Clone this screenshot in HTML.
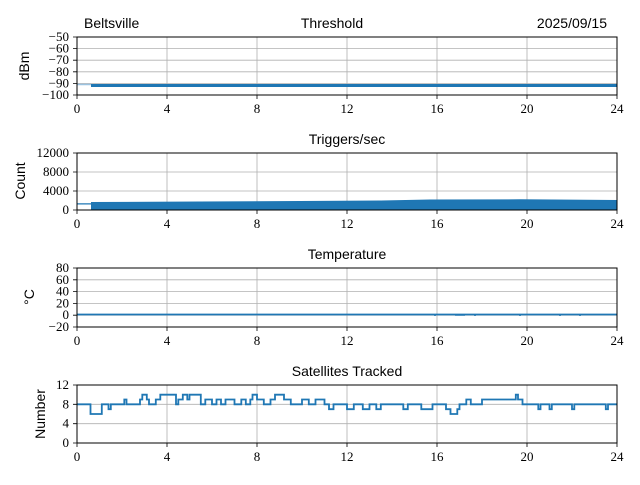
<!DOCTYPE html>
<html><head><meta charset="utf-8"><style>
body{margin:0;background:#fff}
svg text{font-family:"Liberation Serif",serif;font-size:13px;fill:#000}
.s{font-family:"Liberation Sans",sans-serif;font-size:14px}
</style></head><body>
<svg width="640" height="480" xmlns="http://www.w3.org/2000/svg">
<g stroke="#b0b0b0" stroke-width="0.8">
<!-- vertical grids -->
<path d="M167,37V95M257,37V95M347,37V95M437,37V95M527,37V95"/>
<path d="M167,153V210M257,153V210M347,153V210M437,153V210M527,153V210"/>
<path d="M167,268V327M257,268V327M347,268V327M437,268V327M527,268V327"/>
<path d="M167,385V443M257,385V443M347,385V443M437,385V443M527,385V443"/>
<!-- horizontal grids -->
<path d="M77,48.6H617M77,60.2H617M77,71.8H617M77,83.4H617"/>
<path d="M77,172H617M77,191H617"/>
<path d="M77,279.8H617M77,291.6H617M77,303.4H617M77,315.2H617"/>
<path d="M77,404.3H617M77,423.7H617"/>
</g>
<!-- threshold -->
<path d="M77,84.5H91" stroke="#9cc3e0" stroke-width="1.5"/>
<path d="M91,85.5H617" stroke="#1f77b4" stroke-width="3"/>
<!-- triggers -->
<path d="M77,204H91" stroke="#1f77b4" stroke-width="1.5"/>
<rect x="77" y="204.5" width="14" height="5.5" fill="#fff"/>
<polygon points="91,202 200,201.5 300,201 380,200.5 430,199.5 520,199.3 617,200 617,210 91,210" fill="#1f77b4"/>
<!-- temperature -->
<path d="M77,314.5H617" stroke="#1f77b4" stroke-width="1.8"/>
<path d="M435,314.5v1.5M455,315h10M475,314v2M520,314.5v1.5M560,314.5v1.5M580,314.5v1.5" stroke="#1f77b4" stroke-width="1.5"/>
<!-- satellites -->
<path fill="none" stroke="#1f77b4" stroke-width="1.8" d="M77,404.3H90.5V414H101.8V404.3H108.5V409.2H110.8V404.3H124.3V399.5H126.5V404.3H140V399.5H142.3V394.7H146.8V399.5H149V404.3H155.8V399.5H160.3V394.7H176V404.3H178.3V399.5H182.8V394.7H187.3V399.5H189.5V394.7H200.8V404.3H205.3V399.5H212V404.3H216.5V399.5H221V404.3H225.5V399.5H234.5V404.3H241.3V399.5H245.8V404.3H250.3V399.5H252.5V394.7H257V399.5H263.8V404.3H270.5V399.5H275V394.7H284V399.5H290.8V404.3H302V399.5H308.8V404.3H315.5V399.5H324.5V404.3H329V409.2H333.5V404.3H347V409.2H353.8V404.3H362.8V409.2H369.5V404.3H376.3V409.2H380.8V404.3H403.3V409.2H407.8V404.3H421.3V409.2H432.5V404.3H446V409.2H450.5V414H457.3V409.2H459.5V404.3H466.3V399.5H470.8V404.3H482V399.5H515.8V394.7H518V399.5H522.5V404.3H538.3V409.2H540.5V404.3H549.5V409.2H551.8V404.3H572V409.2H574.3V404.3H605.8V409.2H608V404.3H617"/>
<!-- axes frames -->
<g fill="none" stroke="#000" stroke-width="1">
<rect x="77" y="37" width="540" height="58"/>
<rect x="77" y="153" width="540" height="57"/>
<rect x="77" y="268" width="540" height="59"/>
<rect x="77" y="385" width="540" height="58"/>
</g>
<!-- ticks -->
<g stroke="#000" stroke-width="0.8">
<path d="M77,95v4M167,95v4M257,95v4M347,95v4M437,95v4M527,95v4M617,95v4"/>
<path d="M77,210v4M167,210v4M257,210v4M347,210v4M437,210v4M527,210v4M617,210v4"/>
<path d="M77,327v4M167,327v4M257,327v4M347,327v4M437,327v4M527,327v4M617,327v4"/>
<path d="M77,443v4M167,443v4M257,443v4M347,443v4M437,443v4M527,443v4M617,443v4"/>
<path d="M73,37h4M73,48.6h4M73,60.2h4M73,71.8h4M73,83.4h4M73,95h4"/>
<path d="M73,153h4M73,172h4M73,191h4M73,210h4"/>
<path d="M73,268h4M73,279.8h4M73,291.6h4M73,303.4h4M73,315.2h4M73,327h4"/>
<path d="M73,385h4M73,404.3h4M73,423.7h4M73,443h4"/>
</g>
<!-- x labels -->
<g text-anchor="middle">
<text x="77" y="113">0</text><text x="167" y="113">4</text><text x="257" y="113">8</text><text x="347" y="113">12</text><text x="437" y="113">16</text><text x="527" y="113">20</text><text x="617" y="113">24</text>
<text x="77" y="228">0</text><text x="167" y="228">4</text><text x="257" y="228">8</text><text x="347" y="228">12</text><text x="437" y="228">16</text><text x="527" y="228">20</text><text x="617" y="228">24</text>
<text x="77" y="345">0</text><text x="167" y="345">4</text><text x="257" y="345">8</text><text x="347" y="345">12</text><text x="437" y="345">16</text><text x="527" y="345">20</text><text x="617" y="345">24</text>
<text x="77" y="461">0</text><text x="167" y="461">4</text><text x="257" y="461">8</text><text x="347" y="461">12</text><text x="437" y="461">16</text><text x="527" y="461">20</text><text x="617" y="461">24</text>
</g>
<!-- y labels -->
<g text-anchor="end">
<text x="69" y="41">−50</text><text x="69" y="52.6">−60</text><text x="69" y="64.2">−70</text><text x="69" y="75.8">−80</text><text x="69" y="87.4">−90</text><text x="69" y="99">−100</text>
<text x="69" y="157">12000</text><text x="69" y="176">8000</text><text x="69" y="195">4000</text><text x="69" y="214">0</text>
<text x="69" y="272">80</text><text x="69" y="283.8">60</text><text x="69" y="295.6">40</text><text x="69" y="307.4">20</text><text x="69" y="319.2">0</text><text x="69" y="331">−20</text>
<text x="69" y="389">12</text><text x="69" y="408.3">8</text><text x="69" y="427.7">4</text><text x="69" y="447">0</text>
</g>
<!-- titles -->
<text class="s" x="84" y="28">Beltsville</text>
<text class="s" x="332" y="28" text-anchor="middle">Threshold</text>
<text class="s" x="607" y="28" text-anchor="end">2025/09/15</text>
<text class="s" x="347" y="144" text-anchor="middle">Triggers/sec</text>
<text class="s" x="347" y="259" text-anchor="middle">Temperature</text>
<text class="s" x="347" y="376" text-anchor="middle">Satellites Tracked</text>
<text class="s" transform="translate(29,66) rotate(-90)" text-anchor="middle" font-size="13">dBm</text>
<text class="s" transform="translate(25,181) rotate(-90)" text-anchor="middle" font-size="13">Count</text>
<text class="s" transform="translate(34,297) rotate(-90)" text-anchor="middle" font-size="13">°C</text>
<text class="s" transform="translate(45,414) rotate(-90)" text-anchor="middle" font-size="13">Number</text>
</svg>
</body></html>
